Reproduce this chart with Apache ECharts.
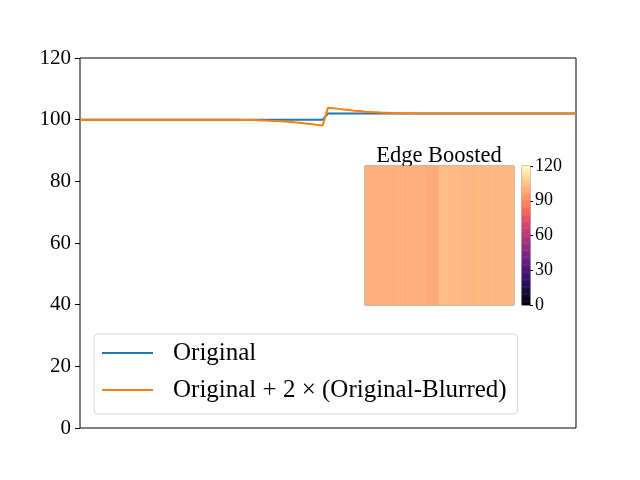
<!DOCTYPE html>
<html>
<head>
<meta charset="utf-8">
<script src="https://cdn.jsdelivr.net/npm/echarts@6/dist/echarts.min.js"></script>
<style>html,body{margin:0;padding:0;background:#fff;}#c{width:640px;height:480px;}</style>
</head>
<body>
<div id="c"></div>
<script>
var original = [
 100,100,100,100,100,100,100,100,100,100,100,100,100,100,100,100,100,100,100,100,
 100,100,100,100,100,100,100,100,100,100,100,100,100,100,100,100,100,100,100,100,
 100,100,100,100,100,100,100,
 102,102,102,102,102,102,102,102,102,102,102,102,102,102,102,102,102,102,102,102,
 102,102,102,102,102,102,102,102,102,102,102,102,102,102,102,102,102,102,102,102,
 102,102,102,102,102,102,102,102
];
var boosted = [
 100,100,100,100,100,100,100,100,100,100,100,100,100,100,100,100,100,100,100,100,
 100,100,100,100,100,100,
 99.99,99.98,99.97,99.96,99.94,99.92,99.89,99.86,99.81,99.75,99.68,99.59,99.49,99.37,99.23,99.07,98.9,98.7,98.5,98.3,98.1,
 103.9,103.7,103.5,103.3,103.1,102.9,102.8,102.6,102.5,102.4,102.3,102.25,102.2,102.14,102.11,102.08,102.06,102.04,102.03,102.02,102.01,
 102,102,102,102,102,102,102,102,102,102,102,102,102,102,102,102,102,102,102,102,
 102,102,102,102,102,102,102
];
var yTicks = [0, 20, 40, 60, 80, 100, 120];
var cbTicks = [0, 30, 60, 90, 120];
var seriesNames = ['Original', 'Original + 2 \u00d7 (Original-Blurred)'];
var insetTitle = 'Edge Boosted';

var idx = original.map(function (_, i) { return i; });
var heat = boosted.map(function (v, i) { return [i, 0, v]; });
var cbRows = [];
for (var r = 0; r < 120; r++) cbRows.push(r);
var cbData = cbRows.map(function (r) { return [0, r, r + 0.5]; });

var serif = 'Liberation Serif';
var magma = ['#000004','#140e36','#3b0f70','#641a80','#8c2981','#b73779','#de4968','#f7705c','#fe9f6d','#fecf92','#fcfdbf'];

var chart = echarts.init(document.getElementById('c'));
chart.setOption({
  animation: false,
  backgroundColor: '#fff',
  textStyle: { fontFamily: serif },
  grid: [
    { left: 80, top: 58, width: 496, height: 370, show: true, borderColor: '#000', borderWidth: 1, backgroundColor: 'transparent' },
    { left: 365, top: 166, width: 149, height: 139, show: true, borderColor: '#777', borderWidth: 1, backgroundColor: 'transparent' },
    { left: 522, top: 166, width: 8, height: 139, show: true, borderColor: '#777', borderWidth: 1, backgroundColor: 'transparent' }
  ],
  xAxis: [
    { gridIndex: 0, type: 'category', data: idx, boundaryGap: false, axisLine: { show: false }, axisTick: { show: false }, axisLabel: { show: false }, splitLine: { show: false } },
    { gridIndex: 1, type: 'category', data: idx, axisLine: { show: false }, axisTick: { show: false }, axisLabel: { show: false }, splitLine: { show: false } },
    { gridIndex: 2, type: 'category', data: [0], axisLine: { show: false }, axisTick: { show: false }, axisLabel: { show: false }, splitLine: { show: false } }
  ],
  yAxis: [
    { gridIndex: 0, type: 'value', min: yTicks[0], max: yTicks[yTicks.length - 1], interval: 20,
      axisLine: { show: false }, splitLine: { show: false },
      axisTick: { show: true, length: 5, lineStyle: { color: '#000' } },
      axisLabel: { color: '#000', fontSize: 21, fontFamily: serif, margin: 9 } },
    { gridIndex: 1, type: 'category', data: [0], axisLine: { show: false }, axisTick: { show: false }, axisLabel: { show: false }, splitLine: { show: false } },
    { gridIndex: 2, type: 'category', data: cbRows, axisLine: { show: false }, axisTick: { show: false }, axisLabel: { show: false }, splitLine: { show: false } },
    { gridIndex: 2, type: 'value', position: 'right', min: cbTicks[0], max: cbTicks[cbTicks.length - 1], interval: 30,
      axisLine: { show: false }, splitLine: { show: false },
      axisTick: { show: true, length: 3, lineStyle: { color: '#000' } },
      axisLabel: { color: '#000', fontSize: 18, fontFamily: serif, margin: 5 } }
  ],
  visualMap: {
    show: false, type: 'continuous', min: 0, max: 120, seriesIndex: [2, 3], dimension: 2,
    inRange: { color: magma }
  },
  legend: {
    orient: 'vertical', left: 94, top: 334,
    padding: [5, 11, 10, 8],
    itemWidth: 51, itemHeight: 2, itemGap: 9,
    icon: 'rect',
    borderColor: '#d6d6d6', borderWidth: 1, borderRadius: 4,
    backgroundColor: 'rgba(255,255,255,0.8)',
    textStyle: { fontSize: 25, fontFamily: serif, color: '#000', padding: [0, 0, 0, 15], lineHeight: 28 },
    data: seriesNames
  },
  graphic: [
    { type: 'text', x: 439, y: 168, style: { text: insetTitle, font: '22.5px "Liberation Serif"', fill: '#000', textAlign: 'center', textVerticalAlign: 'bottom' } }
  ],
  series: [
    { name: seriesNames[0], type: 'line', xAxisIndex: 0, yAxisIndex: 0, data: original, symbol: 'none', showSymbol: false, lineStyle: { color: '#1f77b4', width: 2 }, itemStyle: { color: '#1f77b4' } },
    { name: seriesNames[1], type: 'line', xAxisIndex: 0, yAxisIndex: 0, data: boosted, symbol: 'none', showSymbol: false, lineStyle: { color: '#ff7f0e', width: 2 }, itemStyle: { color: '#ff7f0e' } },
    { type: 'heatmap', xAxisIndex: 1, yAxisIndex: 1, data: heat },
    { type: 'heatmap', xAxisIndex: 2, yAxisIndex: 2, data: cbData }
  ]
});
</script>
</body>
</html>
